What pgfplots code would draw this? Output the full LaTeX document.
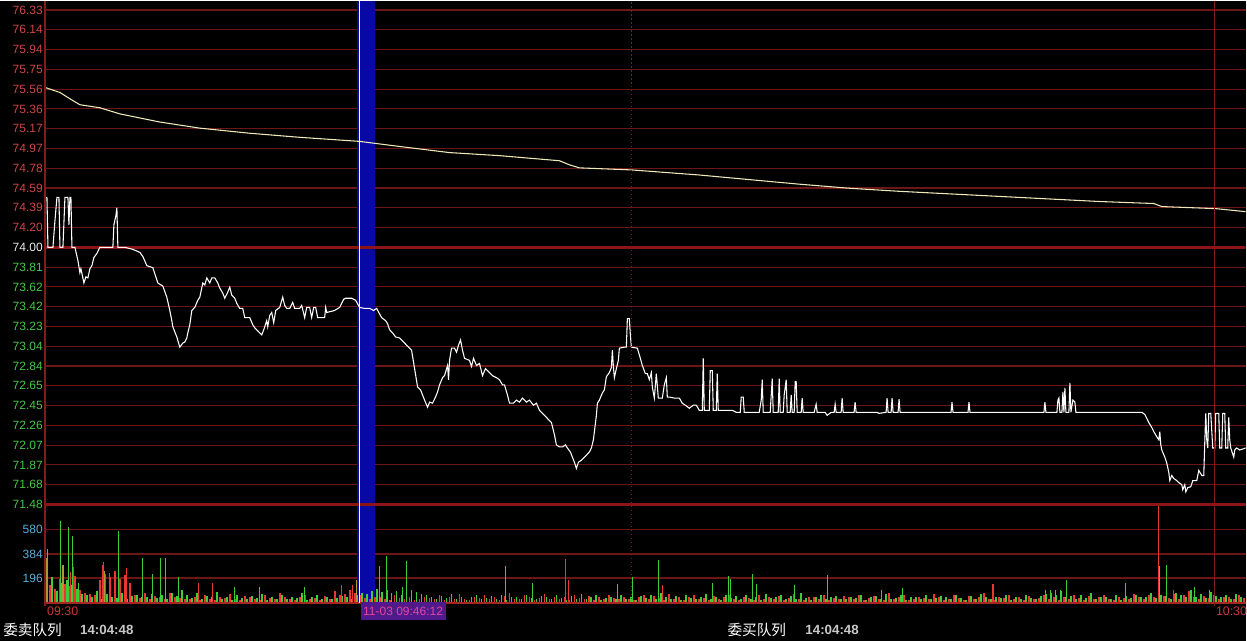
\documentclass[border=0pt]{standalone}
\usepackage{pgfplots}
\pgfplotsset{compat=1.18}
\usepackage{pgfplotstable}
\usepackage{fontspec}
\setmainfont{Liberation Sans}
\newfontfamily\cjk{Noto Sans CJK SC}
\definecolor{gridred}{RGB}{110,22,22}
\definecolor{axisred}{RGB}{130,28,28}
\definecolor{thickred}{RGB}{140,20,20}
\definecolor{lblred}{RGB}{205,70,70}
\definecolor{lblgreen}{RGB}{70,200,70}
\definecolor{lblwhite}{RGB}{235,235,235}
\definecolor{lblcyan}{RGB}{90,175,220}
\definecolor{volred}{RGB}{235,55,50}
\definecolor{volgreen}{RGB}{60,205,55}
\definecolor{vololive}{RGB}{175,150,60}
\definecolor{avgline}{RGB}{240,232,185}
\definecolor{bandblue}{RGB}{8,8,165}
\definecolor{tagbg}{RGB}{80,25,140}
\definecolor{tagtx}{RGB}{225,70,160}
\definecolor{timered}{RGB}{200,55,55}
\definecolor{clockgray}{RGB}{200,200,200}
\newcommand\R[1]{\textcolor{lblred}{#1}}
\newcommand\G[1]{\textcolor{lblgreen}{#1}}

% price line (t = time index, 0 = 09:30, 1171 = 10:30)
\pgfplotstableread{
t p
0 74.49
2 74.49
3 74.00
8 74.00
10 74.26
12 74.49
14 74.49
15 74.00
18 74.00
20 74.49
23 74.49
24 74.22
25 74.49
26 74.49
27 74.00
30 74.00
33 73.87
35 73.75
36 73.79
39 73.65
41 73.71
43 73.70
45 73.79
47 73.82
49 73.90
52 73.94
55 74.00
68 74.00
69 74.22
71 74.31
72 74.39
73 74.00
80 74.00
88 73.98
95 73.95
98 73.91
102 73.82
108 73.80
113 73.65
118 73.62
122 73.51
125 73.38
127 73.28
128 73.22
132 73.12
135 73.02
138 73.06
140 73.07
142 73.11
143 73.16
145 73.24
147 73.38
150 73.41
153 73.48
155 73.51
158 73.65
160 73.63
162 73.70
165 73.65
167 73.70
170 73.70
173 73.65
175 73.60
178 73.55
180 73.50
183 73.56
185 73.61
187 73.53
190 73.50
192 73.45
195 73.40
198 73.40
200 73.31
205 73.31
208 73.24
210 73.21
213 73.18
217 73.14
219 73.19
222 73.28
223 73.22
225 73.33
227 73.36
229 73.26
231 73.38
235 73.41
238 73.51
240 73.43
242 73.40
245 73.40
248 73.46
250 73.40
255 73.40
257 73.43
260 73.31
262 73.41
265 73.41
267 73.31
269 73.41
271 73.41
273 73.31
277 73.31
280 73.31
281 73.41
282 73.36
290 73.38
295 73.41
299 73.49
301 73.50
307 73.50
311 73.48
315 73.41
320 73.40
325 73.40
329 73.38
332 73.40
337 73.31
341 73.28
343 73.25
345 73.19
348 73.16
351 73.12
355 73.11
360 73.06
365 73.01
367 72.99
370 72.81
373 72.63
376 72.60
378 72.55
380 72.50
383 72.43
385 72.48
388 72.47
391 72.53
393 72.58
395 72.65
398 72.72
400 72.74
403 72.84
404 72.70
405 72.89
407 73.01
410 73.01
412 72.97
414 73.04
416 73.09
418 72.99
420 72.91
425 72.89
427 72.83
429 72.91
432 72.84
435 72.86
438 72.74
441 72.81
445 72.77
448 72.74
452 72.72
455 72.70
458 72.65
460 72.65
463 72.55
465 72.47
469 72.47
472 72.50
475 72.48
478 72.52
482 72.48
485 72.50
489 72.45
492 72.47
495 72.40
499 72.36
502 72.33
505 72.30
507 72.28
510 72.16
512 72.06
515 72.04
518 72.04
521 72.06
523 72.03
526 71.99
528 71.94
530 71.89
532 71.83
534 71.89
537 71.91
540 71.94
542 71.96
545 71.99
547 72.03
549 72.11
550 72.19
552 72.35
553 72.47
555 72.50
558 72.57
560 72.60
562 72.73
565 72.77
567 72.82
568 72.99
569 72.83
570 72.72
572 72.81
574 72.89
575 73.01
580 73.02
582 73.02
583 73.30
585 73.30
586 73.14
587 73.02
593 73.01
596 72.91
598 72.84
601 72.76
603 72.76
605 72.70
607 72.77
608 72.63
610 72.52
612 72.76
614 72.52
618 72.52
620 72.65
622 72.72
623 72.53
625 72.53
630 72.52
635 72.52
638 72.47
641 72.45
645 72.42
649 72.45
652 72.45
655 72.40
658 72.40
659 72.91
660 72.40
665 72.40
666 72.79
668 72.79
669 72.40
672 72.40
673 72.76
674 72.40
688 72.40
692 72.38
696 72.38
697 72.53
699 72.53
700 72.38
715 72.38
717 72.50
718 72.70
719 72.38
726 72.38
728 72.71
729 72.38
734 72.38
735 72.71
736 72.38
739 72.38
740 72.55
742 72.70
743 72.38
746 72.38
747 72.55
748 72.38
750 72.38
751 72.68
752 72.68
753 72.38
757 72.38
758 72.52
759 72.38
770 72.38
772 72.46
773 72.38
781 72.38
783 72.35
787 72.38
790 72.38
791 72.46
792 72.38
797 72.38
798 72.52
799 72.38
810 72.38
811 72.48
812 72.38
833 72.38
835 72.37
842 72.38
843 72.52
844 72.38
847 72.38
848 72.52
849 72.38
854 72.38
855 72.51
856 72.38
907 72.38
908 72.48
909 72.38
924 72.38
925 72.48
926 72.38
1000 72.38
1001 72.48
1002 72.38
1013 72.38
1014 72.50
1015 72.52
1016 72.38
1018 72.38
1019 72.58
1020 72.38
1021 72.62
1022 72.38
1025 72.38
1026 72.67
1027 72.38
1029 72.50
1031 72.48
1032 72.38
1098 72.38
1101 72.36
1105 72.28
1108 72.23
1110 72.19
1113 72.14
1115 72.11
1116 72.19
1117 72.06
1118 72.01
1121 71.94
1123 71.88
1125 71.79
1126 71.71
1128 71.76
1130 71.73
1133 71.71
1135 71.69
1138 71.67
1139 71.62
1141 71.67
1142 71.60
1144 71.64
1147 71.65
1149 71.71
1153 71.71
1155 71.81
1158 71.76
1160 71.76
1161 72.08
1162 72.37
1163 72.11
1164 72.03
1165 72.37
1167 72.37
1169 72.03
1171 72.03
1172 72.37
1175 72.37
1176 72.03
1178 72.03
1179 72.37
1181 72.37
1182 72.03
1184 72.03
1185 72.33
1186 72.11
1187 72.03
1190 71.94
1191 72.01
1193 72.03
1196 72.01
1202 72.03
}\pricetab

% average price line
\pgfplotstableread{
t p
0 75.57
15 75.52
28 75.44
35 75.40
55 75.37
75 75.31
95 75.27
115 75.23
155 75.17
205 75.12
255 75.08
315 75.04
355 74.99
405 74.93
455 74.90
515 74.85
525 74.81
535 74.78
587 74.76
655 74.71
755 74.62
805 74.58
855 74.55
955 74.50
1055 74.45
1110 74.43
1118 74.40
1172 74.38
1202 74.35
}\avgtab

% small volume bars, red (every 5 time units from 0)
\pgfplotstableread[header=false,row sep=\\]{
160\\140\\110\\190\\150\\130\\210\\100\\80\\
70\\60\\
180\\230\\200\\250\\190\\220\\160\\
60\\40\\75\\30\\55\\45\\35\\80\\50\\40\\30\\
30\\45\\20\\60\\35\\25\\50\\40\\70\\30\\20\\55\\
45\\35\\25\\60\\40\\30\\80\\50\\35\\25\\45\\65\\30\\40\\20\\55\\35\\90\\60\\70\\
100\\80\\60\\40\\30\\50\\45\\35\\25\\60\\40\\30\\45\\25\\35\\50\\
40\\30\\60\\25\\45\\35\\70\\30\\20\\50\\40\\65\\30\\45\\25\\55\\80\\35\\30\\60\\45\\25\\40\\70\\
35\\50\\30\\45\\20\\60\\40\\35\\55\\25\\45\\30\\65\\40\\30\\50\\35\\25\\45\\60\\
30\\55\\40\\25\\70\\35\\45\\20\\50\\65\\30\\40\\25\\55\\35\\45\\60\\30\\20\\50\\
40\\25\\60\\35\\45\\30\\55\\20\\40\\70\\35\\25\\50\\45\\30\\60\\25\\40\\35\\55\\
45\\30\\65\\25\\40\\55\\35\\20\\75\\30\\45\\60\\25\\35\\50\\40\\30\\70\\45\\25\\
35\\60\\40\\25\\55\\30\\45\\80\\35\\20\\50\\40\\65\\30\\45\\25\\55\\35\\40\\60\\
30\\45\\25\\50\\35\\60\\40\\20\\55\\30\\45\\65\\35\\25\\50\\40\\30\\70\\45\\35\\
60\\45\\80\\55\\40\\70\\35\\60\\90\\45\\30\\55\\40\\65\\35\\50\\45\\30\\60\\40\\
}\redvol

% small volume bars, green (every 5 time units from 2)
\pgfplotstableread[header=false,row sep=\\]{
120\\200\\90\\160\\180\\140\\110\\70\\
60\\45\\90\\35\\70\\50\\40\\80\\30\\55\\65\\45\\
50\\70\\40\\60\\35\\80\\55\\100\\
60\\40\\75\\30\\55\\45\\85\\35\\50\\25\\65\\40\\
30\\55\\40\\70\\25\\45\\35\\60\\30\\50\\40\\75\\25\\45\\65\\30\\50\\35\\40\\55\\
45\\30\\60\\80\\70\\95\\110\\85\\100\\75\\90\\60\\120\\100\\85\\70\\
60\\45\\30\\55\\40\\70\\35\\50\\25\\45\\60\\30\\40\\55\\35\\65\\25\\45\\50\\30\\60\\40\\35\\55\\
45\\30\\65\\40\\25\\55\\35\\70\\30\\45\\60\\25\\40\\50\\35\\65\\30\\45\\25\\55\\
40\\60\\30\\80\\45\\35\\55\\25\\65\\40\\30\\50\\70\\35\\45\\25\\60\\40\\55\\30\\
65\\35\\50\\25\\70\\40\\45\\60\\30\\55\\35\\80\\40\\25\\50\\65\\30\\45\\55\\35\\
30\\50\\40\\65\\25\\45\\55\\35\\70\\30\\40\\60\\25\\50\\45\\35\\65\\30\\40\\55\\
45\\30\\60\\40\\25\\55\\35\\70\\45\\30\\50\\40\\65\\25\\45\\35\\60\\40\\30\\55\\
70\\80\\65\\90\\45\\55\\35\\60\\40\\75\\30\\50\\45\\35\\60\\25\\55\\40\\65\\45\\
50\\75\\40\\65\\55\\35\\80\\60\\45\\100\\50\\70\\40\\85\\55\\45\\60\\35\\70\\50\\
}\greenvol

\pgfplotstableread{
t v
26 243
29 282
58 298
59 321
65 235
70 220
82 274
154 157
168 157
297 141
308 141
521 345
524 180
618 141
949 149
1115 768
1130 102
}\redtall

\pgfplotstableread{
t v
1 353
18 298
60 250
312 180
1116 290
}\olivetall

\pgfplotstableread{
t v
3 423
16 643
24 596
28 525
34 157
74 564
98 353
108 227
116 353
121 353
134 204
190 125
215 125
260 125
335 290
342 368
358 125
362 329
461 290
488 157
573 149
588 204
614 337
668 157
684 212
686 188
708 227
712 149
750 141
783 220
837 102
858 118
1002 102
1007 100
1012 102
1017 100
1023 180
1082 157
1123 298
1151 125
1166 102
}\greentall

\begin{document}
\begin{tikzpicture}
\begin{scope}[x=0.75pt,y=0.75pt]
\useasboundingbox (0,0) rectangle (1247,641);
\fill[black] (0,0) rectangle (1247,641);
\end{scope}

% ---------------- price panel ----------------
\begin{axis}[
  at={(33.75pt,102.45pt)}, anchor=south west, scale only axis,
  width=901.5pt, height=378.3pt,
  xmin=0, xmax=1202, ymin=71.4754, ymax=76.4223,
  axis line style={draw=none}, xtick=\empty,
  major tick length=0pt,
  ymajorgrids, major grid style={gridred, line width=0.8pt},
  ytick={71.4754,71.6696,71.8638,72.0579,72.2521,72.4463,72.6404,72.8346,73.0288,73.2229,73.4171,73.6113,73.8054,74,74.1942,74.3883,74.5825,74.7767,74.9708,75.1650,75.3592,75.5533,75.7475,75.9417,76.1358,76.33},
  yticklabels={\G{71.48},\G{71.68},\G{71.87},\G{72.07},\G{72.26},\G{72.45},\G{72.65},\G{72.84},\G{73.04},\G{73.23},\G{73.42},\G{73.62},\G{73.81},\textcolor{lblwhite}{74.00},\R{74.20},\R{74.39},\R{74.59},\R{74.78},\R{74.97},\R{75.17},\R{75.36},\R{75.56},\R{75.75},\R{75.94},\R{76.14},\R{76.33}},
  yticklabel style={font=\fontsize{9}{10}\selectfont, anchor=east, inner sep=0pt, xshift=-1.5pt},
]
\fill[bandblue] (312,71.4754) rectangle (330,76.4223);
\draw[thickred, line width=2pt] (0,74) -- (1202,74);
\addplot[avgline, line width=0.8pt] table[x=t,y=p] {\avgtab};
\addplot[white, line width=0.8pt] table[x=t,y=p] {\pricetab};
\end{axis}

% ---------------- volume panel ----------------
\begin{axis}[
  at={(33.75pt,28.5pt)}, anchor=south west, scale only axis,
  width=901.5pt, height=73.95pt,
  xmin=0, xmax=1202, ymin=0, ymax=772.7,
  axis line style={draw=none}, xtick=\empty,
  major tick length=0pt,
  ymajorgrids, major grid style={gridred, line width=0.8pt},
  ytick={196,384,580},
  yticklabels={\textcolor{lblcyan}{196},\textcolor{lblcyan}{384},\textcolor{lblcyan}{580}},
  yticklabel style={font=\fontsize{9}{10}\selectfont, anchor=east, inner sep=0pt, xshift=-1.5pt},
]
\fill[bandblue] (312,0) rectangle (330,772.7);
\addplot[ycomb, volred, line width=1.35pt] table[x expr=\coordindex*5, y index=0] {\redvol};
\addplot[ycomb, volgreen, line width=1.35pt] table[x expr=\coordindex*5+2, y index=0] {\greenvol};
\addplot[ycomb, vololive, line width=0.9pt] table[x=t,y=v] {\olivetall};
\addplot[ycomb, volred, line width=0.8pt] table[x=t,y=v] {\redtall};
\addplot[ycomb, volgreen, line width=0.8pt] table[x=t,y=v] {\greentall};
\end{axis}

\begin{scope}[x=0.75pt,y=0.75pt]
% frame lines
\draw[thickred, line width=1.6pt] (45,136.6) -- (1247,136.6);
\draw[volred!70!black, line width=0.9pt] (45,38) -- (1247,38);
\draw[axisred, line width=0.9pt] (45,35) -- (45,641);
\draw[axisred, line width=0.9pt] (1216,35) -- (1216,641);
\draw[axisred, line width=0.9pt, dash pattern=on 1pt off 2pt] (632,38) -- (632,641);
\draw[white, line width=0.9pt] (360,38) -- (360,641);

% time labels
\node[anchor=west, inner sep=0pt, text=timered, font=\fontsize{9.3}{10}\selectfont] at (47,30) {09:30};
\node[anchor=west, inner sep=0pt, text=timered, font=\fontsize{9.3}{10}\selectfont] at (1217,30) {10:30};
\fill[tagbg] (361,21) rectangle (446,38.5);
\node[inner sep=0pt, text=tagtx, font=\fontsize{9}{10}\selectfont] at (403.5,29.5) {11-03 09:46:12};

% bottom status line
\node[anchor=west, inner sep=0pt, text=white, font=\fontsize{11}{12}\selectfont] at (3,11) {\cjk 委卖队列};
\node[anchor=west, inner sep=0pt, text=clockgray, font=\fontsize{10}{11}\selectfont\bfseries] at (80,11) {14:04:48};
\node[anchor=west, inner sep=0pt, text=white, font=\fontsize{11}{12}\selectfont] at (728,11) {\cjk 委买队列};
\node[anchor=west, inner sep=0pt, text=clockgray, font=\fontsize{10}{11}\selectfont\bfseries] at (806,11) {14:04:48};
\end{scope}
\end{tikzpicture}
\end{document}
